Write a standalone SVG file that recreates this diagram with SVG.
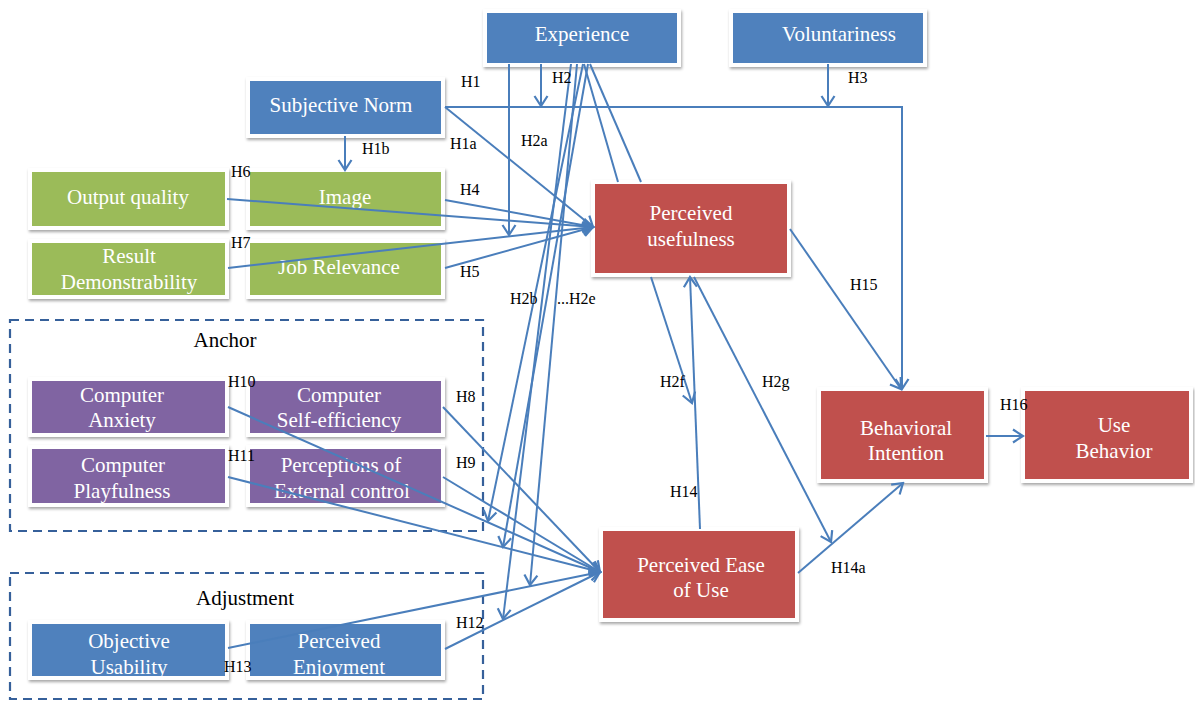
<svg xmlns="http://www.w3.org/2000/svg" width="1195" height="704" viewBox="0 0 1195 704">
<defs>
<filter id="sh" x="-10%" y="-10%" width="120%" height="130%">
<feDropShadow dx="1" dy="2" stdDeviation="1.8" flood-color="#000" flood-opacity="0.35"/>
</filter>
<marker id="arr" markerUnits="userSpaceOnUse" markerWidth="16" markerHeight="16" viewBox="0 0 16 16" refX="14" refY="8" orient="auto">
<path d="M4,1.5 L14,8 L4,14.5" fill="none" stroke="#4A7EBB" stroke-width="2.2"/>
</marker>
</defs>
<style>
.frame{fill:#fff;filter:url(#sh)}
.blue{fill:#4F81BD}
.green{fill:#9BBB59}
.purple{fill:#8064A2}
.red{fill:#C0504D}
.nt{fill:#fff;font-family:"Liberation Serif","Times New Roman",serif;font-size:21px;text-anchor:middle}
.lb{fill:#000;font-family:"Liberation Serif","Times New Roman",serif;font-size:16px}
.gl{fill:#000;font-family:"Liberation Serif","Times New Roman",serif;font-size:21px;text-anchor:middle}
.dash{fill:none;stroke:#36609A;stroke-width:2.2;stroke-dasharray:9,6}
.c{fill:none;stroke:#4A7EBB;stroke-width:2}
.a{marker-end:url(#arr)}
</style>
<rect width="1195" height="704" fill="#fff"/>

<g id="group-anchor">
<rect class="dash" x="10" y="320" width="473" height="211"/>
<text class="gl" x="225" y="347">Anchor</text>
</g>
<g id="group-adjustment">
<rect class="dash" x="10" y="573" width="473" height="126"/>
<text class="gl" x="245" y="605">Adjustment</text>
</g>

<g id="experience">
<rect class="frame" x="483" y="9" width="198" height="58"/>
<rect class="blue" x="487" y="13" width="190" height="50"/>
<text class="nt" x="582" y="41">Experience</text>
</g>
<g id="voluntariness">
<rect class="frame" x="729" y="9" width="198" height="58"/>
<rect class="blue" x="733" y="13" width="190" height="50"/>
<text class="nt" x="839" y="41">Voluntariness</text>
</g>
<g id="subjective-norm">
<rect class="frame" x="246" y="77" width="199" height="61"/>
<rect class="blue" x="250" y="81" width="191" height="53"/>
<text class="nt" x="341" y="112">Subjective Norm</text>
</g>
<g id="output-quality">
<rect class="frame" x="28" y="168" width="201" height="62"/>
<rect class="green" x="32" y="172" width="193" height="54"/>
<text class="nt" x="128" y="204">Output quality</text>
</g>
<g id="image">
<rect class="frame" x="246" y="168" width="199" height="62"/>
<rect class="green" x="250" y="172" width="191" height="54"/>
<text class="nt" x="345" y="204">Image</text>
</g>
<g id="result-demonstrability">
<rect class="frame" x="28" y="239" width="201" height="60"/>
<rect class="green" x="32" y="243" width="193" height="52"/>
<text class="nt" x="129" y="263">Result</text>
<text class="nt" x="129" y="289">Demonstrability</text>
</g>
<g id="job-relevance">
<rect class="frame" x="246" y="239" width="199" height="60"/>
<rect class="green" x="250" y="243" width="191" height="52"/>
<text class="nt" x="339" y="274">Job Relevance</text>
</g>
<g id="computer-anxiety">
<rect class="frame" x="28" y="377" width="201" height="60"/>
<rect class="purple" x="32" y="381" width="193" height="52"/>
<text class="nt" x="122" y="402">Computer</text>
<text class="nt" x="122" y="427">Anxiety</text>
</g>
<g id="computer-self-efficiency">
<rect class="frame" x="246" y="377" width="199" height="60"/>
<rect class="purple" x="250" y="381" width="191" height="52"/>
<text class="nt" x="339" y="402">Computer</text>
<text class="nt" x="339" y="427">Self-efficiency</text>
</g>
<g id="computer-playfulness">
<rect class="frame" x="28" y="445" width="201" height="62"/>
<rect class="purple" x="32" y="449" width="193" height="54"/>
<text class="nt" x="123" y="472">Computer</text>
<text class="nt" x="122" y="498">Playfulness</text>
</g>
<g id="perceptions-external-control">
<rect class="frame" x="246" y="445" width="199" height="62"/>
<rect class="purple" x="250" y="449" width="191" height="54"/>
<text class="nt" x="341" y="472">Perceptions of</text>
<text class="nt" x="342" y="498">External control</text>
</g>
<g id="objective-usability">
<rect class="frame" x="28" y="620" width="201" height="60"/>
<rect class="blue" x="32" y="624" width="193" height="52"/>
<text class="nt" x="129" y="648">Objective</text>
<text class="nt" x="129" y="674">Usability</text>
</g>
<g id="perceived-enjoyment">
<rect class="frame" x="246" y="620" width="199" height="60"/>
<rect class="blue" x="250" y="624" width="191" height="52"/>
<text class="nt" x="339" y="648">Perceived</text>
<text class="nt" x="339" y="674">Enjoyment</text>
</g>
<g id="perceived-usefulness">
<rect class="frame" x="591" y="180" width="200" height="97"/>
<rect class="red" x="595" y="184" width="192" height="89"/>
<text class="nt" x="691" y="220">Perceived</text>
<text class="nt" x="691" y="246">usefulness</text>
</g>
<g id="perceived-ease-of-use">
<rect class="frame" x="599" y="527" width="200" height="95"/>
<rect class="red" x="603" y="531" width="192" height="87"/>
<text class="nt" x="701" y="572">Perceived Ease</text>
<text class="nt" x="701" y="597">of Use</text>
</g>
<g id="behavioral-intention">
<rect class="frame" x="817" y="387" width="171" height="96"/>
<rect class="red" x="821" y="391" width="163" height="88"/>
<text class="nt" x="906" y="435">Behavioral</text>
<text class="nt" x="906" y="460">Intention</text>
</g>
<g id="use-behavior">
<rect class="frame" x="1021" y="387" width="172" height="96"/>
<rect class="red" x="1025" y="391" width="164" height="88"/>
<text class="nt" x="1114" y="432">Use</text>
<text class="nt" x="1114" y="458">Behavior</text>
</g>

<g id="connectors">
<polyline class="c a" points="445,107 902,107 902,389"/>
<line class="c a" x1="541" y1="64" x2="541" y2="106"/>
<line class="c a" x1="828" y1="64" x2="828" y2="106"/>
<line class="c a" x1="509" y1="64" x2="509" y2="235"/>
<line class="c a" x1="445" y1="107" x2="593" y2="227"/>
<line class="c a" x1="345" y1="136" x2="345" y2="170"/>
<line class="c a" x1="227" y1="199" x2="593" y2="227"/>
<line class="c a" x1="445" y1="200" x2="593" y2="227"/>
<line class="c a" x1="228" y1="268" x2="593" y2="227"/>
<line class="c a" x1="445" y1="268" x2="593" y2="227"/>
<line class="c" x1="584" y1="64" x2="618" y2="182"/>
<line class="c" x1="590" y1="64" x2="641" y2="182"/>
<line class="c a" x1="583" y1="64" x2="488" y2="521"/>
<line class="c a" x1="588" y1="64" x2="503" y2="547"/>
<line class="c a" x1="577" y1="64" x2="530" y2="585"/>
<line class="c a" x1="571" y1="64" x2="503" y2="619"/>
<line class="c a" x1="228" y1="407" x2="600" y2="572"/>
<line class="c a" x1="443" y1="407" x2="600" y2="572"/>
<line class="c a" x1="228" y1="477" x2="600" y2="572"/>
<line class="c a" x1="443" y1="477" x2="600" y2="572"/>
<line class="c a" x1="228" y1="648" x2="600" y2="572"/>
<line class="c a" x1="445" y1="649" x2="600" y2="572"/>
<line class="c a" x1="651" y1="277" x2="692" y2="403"/>
<line class="c a" x1="700" y1="529" x2="690" y2="277"/>
<line class="c a" x1="694" y1="277" x2="831" y2="542"/>
<line class="c a" x1="798" y1="573" x2="903" y2="483"/>
<line class="c a" x1="790" y1="229" x2="901" y2="389"/>
<line class="c a" x1="986" y1="436" x2="1023" y2="436"/>
</g>

<g id="labels">
<text class="lb" x="461" y="87">H1</text>
<text class="lb" x="552" y="83">H2</text>
<text class="lb" x="848" y="83">H3</text>
<text class="lb" x="362" y="154">H1b</text>
<text class="lb" x="450" y="149">H1a</text>
<text class="lb" x="521" y="146">H2a</text>
<text class="lb" x="231" y="177">H6</text>
<text class="lb" x="460" y="195">H4</text>
<text class="lb" x="231" y="248">H7</text>
<text class="lb" x="460" y="277">H5</text>
<text class="lb" x="510" y="304">H2b</text>
<text class="lb" x="557" y="304">...H2e</text>
<text class="lb" x="228" y="387">H10</text>
<text class="lb" x="456" y="402">H8</text>
<text class="lb" x="228" y="461">H11</text>
<text class="lb" x="456" y="468">H9</text>
<text class="lb" x="456" y="628">H12</text>
<text class="lb" x="224" y="672">H13</text>
<text class="lb" x="660" y="387">H2f</text>
<text class="lb" x="762" y="387">H2g</text>
<text class="lb" x="850" y="290">H15</text>
<text class="lb" x="1000" y="410">H16</text>
<text class="lb" x="670" y="497">H14</text>
<text class="lb" x="831" y="573">H14a</text>
</g>
</svg>
